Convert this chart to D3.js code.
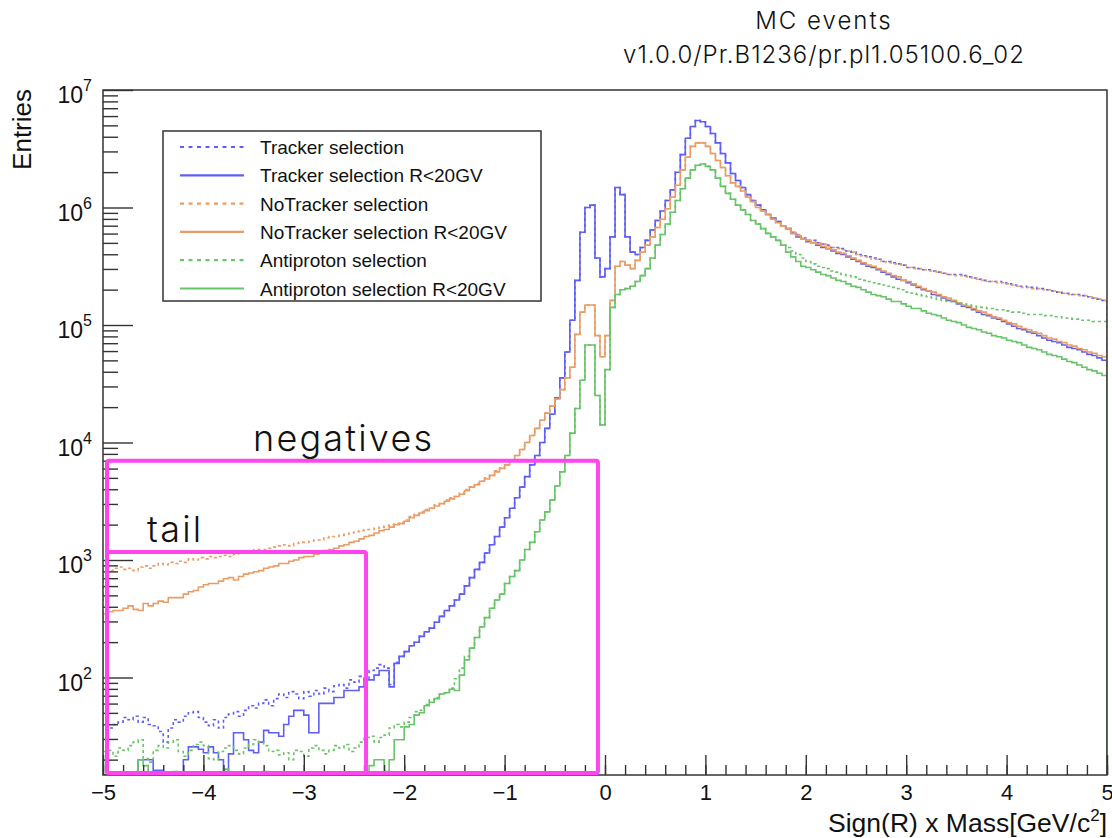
<!DOCTYPE html>
<html>
<head>
<meta charset="utf-8">
<script src="https://cdn.jsdelivr.net/npm/d3@7"></script>
<style>
  body { margin: 0; background: #fff; }
  svg { display: block; font-family: "Liberation Sans", Arial, Helvetica, sans-serif; }
</style>
</head>
<body>
<script>
// histogram binning: 200 bins of Sign(R) x Mass from -5 to 5
var massLow = -5, massHigh = 5, binWidth = 0.05;

// bin contents, as log10(entries)
var logTracker = [
  1.51, 1.57, 1.60, 1.62, 1.66, 1.64, 1.67, 1.62, 1.66, 1.60,
  1.59, 1.54, 1.45, 1.57, 1.64, 1.62, 1.67, 1.70, 1.71, 1.66,
  1.62, 1.59, 1.64, 1.57, 1.66, 1.69, 1.71, 1.67, 1.72, 1.76,
  1.74, 1.78, 1.81, 1.76, 1.82, 1.86, 1.83, 1.88, 1.86, 1.82,
  1.88, 1.84, 1.89, 1.86, 1.91, 1.88, 1.93, 1.94, 1.91, 1.98,
  1.96, 2.01, 1.99, 2.06, 2.08, 2.11, 2.08, 1.94, 2.13, 2.18,
  2.22, 2.27, 2.30, 2.35, 2.39, 2.42, 2.47, 2.52, 2.57, 2.61,
  2.66, 2.71, 2.78, 2.85, 2.92, 2.98, 3.06, 3.13, 3.20, 3.28,
  3.36, 3.44, 3.53, 3.62, 3.71, 3.81, 3.89, 4.00, 4.12, 4.24,
  4.38, 4.55, 4.77, 5.04, 5.38, 5.79, 6.00, 6.02, 5.57, 5.41,
  5.48, 5.75, 6.17, 6.11, 5.75, 5.62, 5.60, 5.66, 5.72, 5.81,
  5.89, 5.97, 6.06, 6.15, 6.30, 6.45, 6.59, 6.69, 6.74, 6.73,
  6.69, 6.63, 6.55, 6.46, 6.38, 6.29, 6.23, 6.17, 6.11, 6.06,
  6.02, 5.98, 5.94, 5.91, 5.88, 5.84, 5.82, 5.79, 5.77, 5.74,
  5.72, 5.72, 5.70, 5.69, 5.68, 5.66, 5.66, 5.65, 5.63, 5.62,
  5.60, 5.59, 5.58, 5.57, 5.56, 5.54, 5.54, 5.53, 5.52, 5.51,
  5.49, 5.49, 5.48, 5.47, 5.47, 5.46, 5.45, 5.44, 5.43, 5.43,
  5.43, 5.42, 5.41, 5.40, 5.39, 5.38, 5.37, 5.37, 5.37, 5.36,
  5.35, 5.34, 5.33, 5.33, 5.32, 5.32, 5.31, 5.31, 5.30, 5.29,
  5.28, 5.27, 5.27, 5.26, 5.26, 5.25, 5.24, 5.23, 5.22, 5.21
];

var logTrackerCut = [
  1.10, 1.10, 1.10, 1.10, 1.10, 1.10, 1.15, 1.30, 1.30, 1.30,
  1.21, 1.21, 1.10, 1.10, 1.10, 1.10, 1.30, 1.41, 1.41, 1.39,
  1.36, 1.41, 1.36, 1.30, 1.20, 1.35, 1.53, 1.53, 1.47, 1.38,
  1.36, 1.45, 1.55, 1.53, 1.53, 1.50, 1.60, 1.67, 1.72, 1.72,
  1.68, 1.53, 1.53, 1.78, 1.78, 1.78, 1.83, 1.83, 1.89, 1.89,
  1.89, 1.92, 1.98, 1.98, 2.02, 2.06, 2.06, 1.92, 2.12, 2.18,
  2.22, 2.27, 2.30, 2.35, 2.39, 2.42, 2.47, 2.52, 2.57, 2.61,
  2.66, 2.71, 2.78, 2.85, 2.92, 2.98, 3.06, 3.13, 3.20, 3.28,
  3.36, 3.44, 3.53, 3.62, 3.71, 3.81, 3.89, 4.00, 4.12, 4.24,
  4.38, 4.55, 4.77, 5.04, 5.38, 5.79, 6.00, 6.02, 5.57, 5.41,
  5.48, 5.75, 6.17, 6.11, 5.75, 5.62, 5.60, 5.66, 5.72, 5.81,
  5.89, 5.97, 6.06, 6.15, 6.30, 6.45, 6.59, 6.69, 6.74, 6.73,
  6.69, 6.63, 6.55, 6.46, 6.38, 6.29, 6.23, 6.17, 6.11, 6.06,
  6.02, 5.98, 5.94, 5.91, 5.88, 5.84, 5.82, 5.78, 5.75, 5.73,
  5.71, 5.70, 5.68, 5.66, 5.65, 5.63, 5.61, 5.60, 5.58, 5.56,
  5.54, 5.52, 5.50, 5.49, 5.47, 5.45, 5.43, 5.41, 5.39, 5.38,
  5.36, 5.34, 5.32, 5.30, 5.29, 5.26, 5.25, 5.23, 5.21, 5.20,
  5.18, 5.16, 5.15, 5.13, 5.11, 5.09, 5.08, 5.06, 5.05, 5.03,
  5.01, 4.99, 4.97, 4.96, 4.94, 4.93, 4.91, 4.89, 4.87, 4.86,
  4.85, 4.83, 4.81, 4.80, 4.79, 4.77, 4.75, 4.74, 4.72, 4.70
];

var logNoTracker = [
  2.95, 2.91, 2.93, 2.94, 2.92, 2.93, 2.91, 2.94, 2.95, 2.93,
  2.95, 2.97, 2.96, 2.98, 2.97, 2.99, 2.98, 3.01, 3.00, 3.02,
  3.01, 3.03, 3.02, 3.03, 3.04, 3.03, 3.05, 3.06, 3.07, 3.08,
  3.09, 3.09, 3.09, 3.10, 3.11, 3.12, 3.13, 3.12, 3.14, 3.15,
  3.15, 3.16, 3.17, 3.17, 3.19, 3.20, 3.20, 3.21, 3.22, 3.23,
  3.24, 3.25, 3.26, 3.26, 3.27, 3.28, 3.29, 3.30, 3.31, 3.32,
  3.34, 3.37, 3.39, 3.41, 3.43, 3.44, 3.47, 3.48, 3.51, 3.53,
  3.54, 3.57, 3.60, 3.62, 3.65, 3.67, 3.70, 3.72, 3.76, 3.78,
  3.81, 3.85, 3.89, 3.94, 4.00, 4.06, 4.12, 4.19, 4.25, 4.31,
  4.37, 4.45, 4.55, 4.64, 4.92, 5.11, 5.17, 5.17, 4.91, 4.73,
  4.91, 5.21, 5.50, 5.54, 5.51, 5.48, 5.55, 5.62, 5.68, 5.75,
  5.83, 5.90, 5.99, 6.09, 6.19, 6.32, 6.43, 6.52, 6.55, 6.55,
  6.52, 6.46, 6.40, 6.34, 6.27, 6.21, 6.18, 6.14, 6.09, 6.05,
  6.00, 5.97, 5.94, 5.90, 5.87, 5.84, 5.82, 5.79, 5.77, 5.74,
  5.72, 5.71, 5.70, 5.69, 5.67, 5.66, 5.65, 5.64, 5.63, 5.62,
  5.60, 5.59, 5.58, 5.56, 5.56, 5.54, 5.53, 5.52, 5.52, 5.51,
  5.49, 5.48, 5.48, 5.47, 5.46, 5.46, 5.45, 5.44, 5.43, 5.42,
  5.42, 5.42, 5.41, 5.40, 5.39, 5.38, 5.37, 5.37, 5.36, 5.36,
  5.35, 5.34, 5.33, 5.32, 5.32, 5.31, 5.31, 5.30, 5.30, 5.29,
  5.28, 5.27, 5.26, 5.26, 5.25, 5.25, 5.24, 5.23, 5.22, 5.21
];

var logNoTrackerCut = [
  2.54, 2.56, 2.57, 2.57, 2.59, 2.61, 2.58, 2.57, 2.63, 2.61,
  2.63, 2.65, 2.64, 2.68, 2.68, 2.68, 2.71, 2.73, 2.74, 2.77,
  2.79, 2.80, 2.80, 2.82, 2.84, 2.85, 2.83, 2.86, 2.88, 2.89,
  2.90, 2.91, 2.93, 2.94, 2.95, 2.97, 2.97, 2.99, 3.00, 3.02,
  3.03, 3.03, 3.05, 3.06, 3.08, 3.09, 3.10, 3.12, 3.13, 3.15,
  3.16, 3.18, 3.20, 3.21, 3.23, 3.25, 3.26, 3.28, 3.30, 3.31,
  3.33, 3.36, 3.38, 3.40, 3.42, 3.44, 3.46, 3.48, 3.50, 3.52,
  3.54, 3.56, 3.59, 3.62, 3.64, 3.67, 3.69, 3.72, 3.75, 3.78,
  3.81, 3.85, 3.89, 3.94, 4.00, 4.06, 4.12, 4.19, 4.25, 4.31,
  4.37, 4.45, 4.55, 4.64, 4.92, 5.11, 5.17, 5.17, 4.91, 4.73,
  4.91, 5.21, 5.50, 5.54, 5.51, 5.48, 5.55, 5.62, 5.68, 5.75,
  5.83, 5.90, 5.99, 6.09, 6.19, 6.32, 6.43, 6.52, 6.55, 6.55,
  6.52, 6.46, 6.40, 6.34, 6.27, 6.21, 6.18, 6.14, 6.09, 6.05,
  6.00, 5.97, 5.94, 5.90, 5.87, 5.84, 5.82, 5.78, 5.76, 5.73,
  5.72, 5.70, 5.69, 5.67, 5.65, 5.64, 5.62, 5.61, 5.59, 5.57,
  5.55, 5.53, 5.51, 5.50, 5.48, 5.46, 5.44, 5.42, 5.41, 5.38,
  5.37, 5.35, 5.33, 5.31, 5.29, 5.28, 5.26, 5.24, 5.23, 5.21,
  5.19, 5.17, 5.16, 5.14, 5.12, 5.11, 5.09, 5.07, 5.06, 5.04,
  5.02, 5.01, 4.99, 4.97, 4.96, 4.94, 4.93, 4.91, 4.89, 4.88,
  4.86, 4.85, 4.83, 4.82, 4.80, 4.79, 4.77, 4.76, 4.74, 4.73
];

var logAntiproton = [
  1.37, 1.38, 1.33, 1.40, 1.38, 1.42, 1.45, 1.47, 1.31, 1.28,
  1.38, 1.42, 1.40, 1.45, 1.47, 1.37, 1.33, 1.38, 1.43, 1.45,
  1.42, 1.31, 1.30, 1.37, 1.40, 1.42, 1.38, 1.35, 1.40, 1.43,
  1.47, 1.45, 1.42, 1.37, 1.38, 1.34, 1.36, 1.30, 1.38, 1.37,
  1.33, 1.40, 1.42, 1.38, 1.35, 1.38, 1.42, 1.40, 1.43, 1.37,
  1.40, 1.45, 1.49, 1.50, 1.45, 1.49, 1.51, 1.57, 1.60, 1.58,
  1.62, 1.66, 1.71, 1.72, 1.77, 1.81, 1.83, 1.86, 1.87, 1.91,
  1.99, 2.08, 2.18, 2.25, 2.34, 2.43, 2.51, 2.59, 2.66, 2.71,
  2.80, 2.86, 2.91, 3.00, 3.09, 3.15, 3.24, 3.34, 3.41, 3.51,
  3.63, 3.75, 3.89, 4.08, 4.29, 4.53, 4.83, 4.83, 4.40, 4.15,
  4.62, 5.15, 5.26, 5.30, 5.31, 5.33, 5.37, 5.42, 5.48, 5.57,
  5.68, 5.77, 5.86, 5.96, 6.06, 6.16, 6.25, 6.32, 6.36, 6.37,
  6.35, 6.32, 6.25, 6.18, 6.12, 6.07, 6.02, 5.98, 5.94, 5.89,
  5.86, 5.82, 5.78, 5.75, 5.72, 5.68, 5.66, 5.63, 5.60, 5.57,
  5.54, 5.52, 5.50, 5.49, 5.48, 5.46, 5.45, 5.43, 5.42, 5.41,
  5.39, 5.38, 5.37, 5.36, 5.35, 5.34, 5.33, 5.32, 5.31, 5.30,
  5.28, 5.27, 5.26, 5.25, 5.24, 5.23, 5.22, 5.21, 5.20, 5.20,
  5.19, 5.18, 5.17, 5.16, 5.15, 5.15, 5.14, 5.14, 5.13, 5.13,
  5.12, 5.11, 5.11, 5.10, 5.09, 5.09, 5.09, 5.08, 5.08, 5.07,
  5.07, 5.06, 5.06, 5.05, 5.05, 5.04, 5.04, 5.03, 5.03, 5.03
];

var logAntiprotonCut = [
  1.10, 1.10, 1.10, 1.10, 1.10, 1.10, 1.10, 1.30, 1.25, 1.10,
  1.10, 1.10, 1.10, 1.10, 1.20, 1.10, 1.10, 1.10, 1.10, 1.10,
  1.10, 1.10, 1.10, 1.10, 1.22, 1.10, 1.10, 1.10, 1.10, 1.10,
  1.10, 1.10, 1.20, 1.10, 1.10, 1.10, 1.10, 1.10, 1.10, 1.10,
  1.10, 1.10, 1.10, 1.10, 1.10, 1.10, 1.10, 1.10, 1.10, 1.10,
  1.10, 1.10, 1.10, 1.25, 1.30, 1.30, 1.20, 1.30, 1.47, 1.47,
  1.58, 1.60, 1.68, 1.70, 1.76, 1.79, 1.82, 1.86, 1.87, 1.90,
  1.89, 2.02, 2.15, 2.25, 2.34, 2.43, 2.51, 2.59, 2.66, 2.71,
  2.80, 2.86, 2.91, 3.00, 3.09, 3.15, 3.24, 3.34, 3.41, 3.51,
  3.63, 3.75, 3.89, 4.08, 4.29, 4.53, 4.83, 4.83, 4.40, 4.15,
  4.62, 5.15, 5.26, 5.30, 5.31, 5.33, 5.37, 5.42, 5.48, 5.57,
  5.68, 5.77, 5.86, 5.96, 6.06, 6.16, 6.25, 6.32, 6.36, 6.37,
  6.35, 6.32, 6.25, 6.18, 6.12, 6.07, 6.02, 5.98, 5.94, 5.89,
  5.86, 5.82, 5.78, 5.75, 5.72, 5.68, 5.62, 5.58, 5.54, 5.50,
  5.49, 5.47, 5.45, 5.43, 5.42, 5.40, 5.38, 5.37, 5.35, 5.33,
  5.32, 5.30, 5.28, 5.26, 5.25, 5.24, 5.22, 5.20, 5.20, 5.18,
  5.16, 5.14, 5.14, 5.12, 5.10, 5.09, 5.08, 5.06, 5.04, 5.03,
  5.02, 5.00, 4.98, 4.97, 4.96, 4.94, 4.93, 4.91, 4.90, 4.89,
  4.87, 4.86, 4.85, 4.83, 4.81, 4.80, 4.79, 4.77, 4.75, 4.74,
  4.73, 4.71, 4.69, 4.68, 4.66, 4.64, 4.62, 4.61, 4.59, 4.57
];

var seriesNames = [
  "Tracker selection", "Tracker selection R<20GV",
  "NoTracker selection", "NoTracker selection R<20GV",
  "Antiproton selection", "Antiproton selection R<20GV"
];

// highlighted regions drawn on top of the plot (mass range, upper entries)
var regions = [
  {label: "negatives", x0: -4.96, x1: -0.07, top: 7000},
  {label: "tail", x0: -4.96, x1: -2.38, top: 1170}
];

var decades = [2, 3, 4, 5, 6, 7];
var xTicks = [-5, -4, -3, -2, -1, 0, 1, 2, 3, 4, 5];

function chart(){
  var width = 1112, height = 838;
  var left = 103, right = 1107, top = 90, bottom = 775;
  var yMin = 14.8, yMax = 1e7;

  var blue = "#5f5ff7", orange = "#e99d66", green = "#68c468";
  var styles = [
    {color: blue, dash: "3,3"}, {color: blue, dash: null},
    {color: orange, dash: "3,3"}, {color: orange, dash: null},
    {color: green, dash: "3,3"}, {color: green, dash: null}
  ];
  var series = [logTracker, logTrackerCut, logNoTracker, logNoTrackerCut, logAntiproton, logAntiprotonCut];

  var x = d3.scaleLinear().domain([massLow, massHigh]).range([left, right]);
  var y = d3.scaleLog().domain([yMin, yMax]).range([bottom, top]);

  var svg = d3.select("body").append("svg")
      .attr("width", width)
      .attr("height", height);

  svg.append("defs").append("clipPath")
      .attr("id", "plotclip")
    .append("rect")
      .attr("x", left).attr("y", top)
      .attr("width", right - left).attr("height", bottom - top);

  // histogram outline (ROOT style steps, dropping to the floor at both ends)
  function histPath(logs){
    var pts = [[x(massLow), y(yMin)]];
    logs.forEach(function(v, i){
      var c = Math.max(Math.pow(10, v), yMin);
      pts.push([x(massLow + i*binWidth), y(c)]);
      pts.push([x(massLow + (i+1)*binWidth), y(c)]);
    });
    pts.push([x(massHigh), y(yMin)]);
    return d3.line()(pts);
  }

  var plot = svg.append("g").attr("clip-path", "url(#plotclip)");
  plot.selectAll(".hist")
      .data(series)
    .enter().append("path")
      .attr("class", "hist")
      .attr("d", histPath)
      .style("fill", "none")
      .style("stroke", function(d, i){ return styles[i].color; })
      .style("stroke-width", 1.6)
      .style("stroke-dasharray", function(d, i){ return styles[i].dash; });

  // x axis: major ticks with labels, minor ticks every 0.2
  var xMinor = d3.range(-50, 51, 2).map(function(d){ return d/10; });
  var xAxisMinor = svg.append("g")
      .attr("transform", "translate(0," + bottom + ")")
      .call(d3.axisBottom(x).tickValues(xMinor).tickSizeInner(-10).tickSizeOuter(0).tickFormat(""));
  var xAxis = svg.append("g")
      .attr("transform", "translate(0," + bottom + ")")
      .call(d3.axisBottom(x).tickValues(xTicks).tickSizeInner(-20).tickSizeOuter(0).tickPadding(9)
        .tickFormat(function(d){ return d < 0 ? "\u2212" + Math.abs(d) : d; }));
  xAxis.selectAll("text")
      .style("font-family", "'Liberation Sans', Arial, sans-serif")
      .style("font-size", "22px")
      .style("fill", "#111");

  // y axis: decades and 2..9 minor ticks
  var yMinor = [];
  [1, 2, 3, 4, 5, 6].forEach(function(p){
    for(var k = 2; k <= 9; k++){
      var v = k*Math.pow(10, p);
      if(v > yMin && v < yMax) yMinor.push(v);
    }
  });
  var yAxisMinor = svg.append("g")
      .attr("transform", "translate(" + left + ",0)")
      .call(d3.axisLeft(y).tickValues(yMinor).tickSizeInner(-15).tickSizeOuter(0).tickFormat(""));
  var yMajor = decades.map(function(p){ return Math.pow(10, p); });
  var yAxis = svg.append("g")
      .attr("transform", "translate(" + left + ",0)")
      .call(d3.axisLeft(y).tickValues(yMajor).tickSizeInner(-30).tickSizeOuter(0).tickFormat(""));

  [xAxisMinor, xAxis, yAxisMinor, yAxis].forEach(function(a){
    a.select(".domain").remove();
    a.selectAll("line").style("stroke", "#333").style("stroke-width", 1.4);
  });

  var yLabels = svg.append("g");
  decades.forEach(function(p){
    var t = yLabels.append("text")
        .attr("x", left - 11)
        .attr("y", y(Math.pow(10, p)) + 13)
        .attr("text-anchor", "end")
        .style("fill", "#111");
    t.append("tspan").style("font-size", "23px").text("10");
    t.append("tspan").style("font-size", "16px").attr("dy", -12).text(p);
  });

  // frame
  svg.append("rect")
      .attr("x", left).attr("y", top)
      .attr("width", right - left).attr("height", bottom - top)
      .style("fill", "none")
      .style("stroke", "#333")
      .style("stroke-width", 1.5);

  // axis titles
  svg.append("text")
      .attr("transform", "translate(31," + (top - 1) + ")rotate(-90)")
      .attr("text-anchor", "end")
      .style("font-size", "26px")
      .style("fill", "#111")
      .text("Entries");

  var xt = svg.append("text")
      .attr("x", right)
      .attr("y", 832)
      .attr("text-anchor", "end")
      .style("font-size", "26.5px")
      .style("fill", "#111");
  xt.append("tspan").text("Sign(R) x Mass[GeV/c");
  xt.append("tspan").style("font-size", "17px").attr("dy", -11).text("2");
  xt.append("tspan").attr("dy", 11).text("]");

  // title
  var title = svg.append("g")
      .style("font-family", "Inter, 'Open Sans', sans-serif")
      .style("font-weight", 300)
      .style("fill", "#111")
      .attr("text-anchor", "middle");
  title.append("text").attr("x", 824).attr("y", 29)
      .style("font-size", "24px").style("letter-spacing", "2px").text("MC events");
  title.append("text").attr("x", 824).attr("y", 63)
      .style("font-size", "24px").style("letter-spacing", "1px").text("v1.0.0/Pr.B1236/pr.pl1.05100.6_02");

  // legend
  var legend = svg.append("g").attr("class", "legend");
  legend.append("rect")
      .attr("x", 163).attr("y", 131)
      .attr("width", 378).attr("height", 170)
      .style("fill", "#fff")
      .style("stroke", "#333")
      .style("stroke-width", 1.5);
  var items = legend.selectAll(".legend-item")
      .data(seriesNames)
    .enter().append("g")
      .attr("class", "legend-item")
      .attr("transform", function(d, i){ return "translate(0," + (147 + i*28.3) + ")"; });
  items.append("line")
      .attr("x1", 180).attr("x2", 244)
      .style("stroke", function(d, i){ return styles[i].color; })
      .style("stroke-width", 2.2)
      .style("stroke-dasharray", function(d, i){ return styles[i].dash ? "4,4.5" : null; });
  items.append("text")
      .attr("x", 260)
      .attr("y", 7)
      .style("font-size", "19px")
      .style("fill", "#111")
      .text(String);

  // highlighted regions
  var boxes = svg.append("g").attr("class", "regions");
  boxes.selectAll("rect")
      .data(regions)
    .enter().append("rect")
      .attr("x", function(d){ return x(d.x0); })
      .attr("y", function(d){ return y(d.top); })
      .attr("width", function(d){ return x(d.x1) - x(d.x0); })
      .attr("height", function(d){ return bottom - 2 - y(d.top); })
      .attr("rx", 2)
      .style("fill", "none")
      .style("stroke", "#ff45ee")
      .style("stroke-width", 4);
  boxes.selectAll("text")
      .data(regions)
    .enter().append("text")
      .attr("x", function(d, i){ return x(d.x0) + (i === 0 ? 146 : 40); })
      .attr("y", function(d){ return y(d.top) - 10; })
      .style("font-family", "Inter, 'Open Sans', sans-serif")
      .style("font-weight", 300)
      .style("font-size", "36px")
      .style("letter-spacing", "2.2px")
      .style("fill", "#111")
      .text(function(d){ return d.label; });
}

chart();
</script>
</body>
</html>
